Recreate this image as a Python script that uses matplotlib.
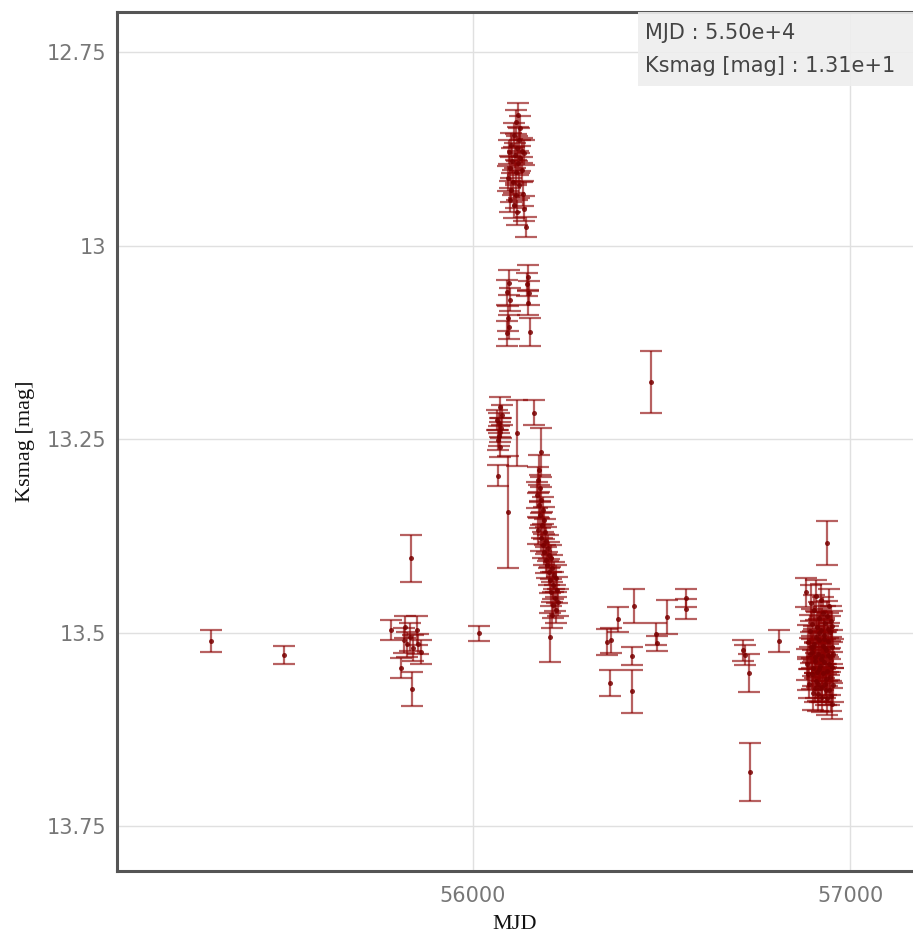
import matplotlib
matplotlib.use("Agg")
import matplotlib.pyplot as plt

# ---------------- data ----------------
# isolated early points and the 55800 group
mjd_early = [55305, 55499, 55782, 55820, 55851, 55825, 55841, 55862, 55809, 55838,
             55836, 55818, 55833, 55854, 56016]
mag_early = [13.511, 13.529, 13.497, 13.493, 13.497, 13.515, 13.520, 13.525, 13.546, 13.573,
             13.404, 13.510, 13.506, 13.515, 13.501]
err_early = [0.014, 0.012, 0.013, 0.014, 0.019, 0.016, 0.017, 0.016, 0.013, 0.022,
             0.030, 0.016, 0.018, 0.013, 0.010]

# outburst peak
mjd_peak = [56119, 56114, 56125, 56109, 56122, 56101, 56117, 56130, 56095, 56111,
            56135, 56125, 56103, 56119, 56098, 56114, 56130, 56093, 56106, 56122,
            56101, 56114, 56133, 56098, 56109, 56135, 56117, 56141]
mag_peak = [12.831, 12.840, 12.848, 12.857, 12.864, 12.870, 12.874, 12.877, 12.879, 12.883,
            12.880, 12.887, 12.890, 12.893, 12.900, 12.905, 12.902, 12.913, 12.918, 12.922,
            12.928, 12.935, 12.933, 12.941, 12.948, 12.952, 12.957, 12.976]
err_peak = [0.016] * 27 + [0.013]

# second plateau
mjd_plat = [56095, 56090, 56098, 56093, 56095, 56090, 56146, 56143, 56149, 56146, 56151]
mag_plat = [13.048, 13.060, 13.070, 13.094, 13.105, 13.113, 13.041, 13.050, 13.061, 13.074, 13.112]
err_plat = [0.016, 0.016, 0.015, 0.016, 0.016, 0.016, 0.016, 0.015, 0.016, 0.016, 0.018]

# early fading points
mjd_fade1 = [56072, 56077, 56069, 56072, 56066, 56072, 56066, 56064, 56074, 56069, 56117, 56093]
mag_fade1 = [13.209, 13.219, 13.229, 13.241, 13.251, 13.260, 13.297, 13.225, 13.236, 13.246,
             13.242, 13.344]
err_fade1 = [0.013, 0.013, 0.013, 0.013, 0.013, 0.013, 0.013, 0.013, 0.013, 0.013, 0.043, 0.072]

# decline
mjd_decl = [56162, 56180, 56175, 56172, 56178, 56170, 56180, 56175, 56186, 56178, 56188,
            56183, 56172, 56191, 56180, 56194, 56186, 56199, 56188, 56202, 56194,
            56207, 56196, 56210, 56202, 56215, 56204, 56220, 56212, 56223, 56207,
            56218, 56225, 56212, 56220, 56210, 56204]
mag_decl = [13.216, 13.267, 13.290, 13.303, 13.313, 13.322, 13.329, 13.335, 13.342, 13.348,
            13.355, 13.361, 13.368, 13.370, 13.378, 13.381, 13.387, 13.391, 13.396, 13.400,
            13.406, 13.404, 13.413, 13.417, 13.422, 13.426, 13.432, 13.430, 13.439, 13.445,
            13.448, 13.455, 13.461, 13.464, 13.471, 13.477, 13.506]
err_decl = [0.016, 0.032, 0.019] + [0.017] * 33 + [0.032]

# 2013-2014 points
mjd_mid = [56472, 56355, 56366, 56385, 56427, 56363, 56422, 56422, 56485, 56488, 56515,
           56565, 56565, 56716, 56721, 56732, 56812, 56735]
mag_mid = [13.176, 13.512, 13.510, 13.483, 13.466, 13.565, 13.530, 13.576, 13.502, 13.514,
           13.480, 13.455, 13.470, 13.523, 13.529, 13.552, 13.511, 13.680]
err_mid = [0.040, 0.017, 0.016, 0.016, 0.022, 0.017, 0.012, 0.028, 0.014, 0.010, 0.022,
           0.012, 0.013, 0.013, 0.013, 0.025, 0.014, 0.037]

# dense late cluster
mjd_late = [56939, 56886, 56889, 56891, 56893, 56895, 56896, 56898, 56900, 56901, 56903,
            56904, 56906, 56907, 56909, 56910, 56911, 56913, 56914, 56915, 56917, 56918,
            56919, 56920, 56922, 56923, 56924, 56925, 56927, 56928, 56929, 56930, 56932,
            56933, 56934, 56935, 56937, 56938, 56939, 56940, 56941, 56943, 56944, 56945,
            56946, 56947, 56948, 56949, 56950, 56951, 56952, 56953, 56954, 56955, 56888,
            56897, 56902, 56908, 56912, 56916, 56921, 56926, 56931, 56936, 56942, 56953,
            56883, 56899, 56905, 56919, 56933, 56942, 56925]
mag_late = [13.384, 13.541, 13.512, 13.566, 13.498, 13.527, 13.462, 13.553, 13.489, 13.578,
            13.518, 13.471, 13.536, 13.571, 13.505, 13.452, 13.562, 13.493, 13.528, 13.579,
            13.481, 13.547, 13.509, 13.571, 13.458, 13.534, 13.496, 13.583, 13.517, 13.552,
            13.474, 13.538, 13.503, 13.566, 13.487, 13.574, 13.522, 13.549, 13.478, 13.585,
            13.511, 13.541, 13.466, 13.574, 13.499, 13.531, 13.557, 13.485, 13.582, 13.519,
            13.545, 13.492, 13.568, 13.527, 13.553, 13.519, 13.546, 13.532, 13.551, 13.566,
            13.543, 13.570, 13.508, 13.560, 13.529, 13.592, 13.448, 13.525, 13.515, 13.500,
            13.520, 13.495, 13.530]
err_late = [0.028] + [0.020, 0.022, 0.019, 0.021, 0.020, 0.023, 0.020, 0.019, 0.022, 0.020] * 6 \
           + [0.020, 0.024, 0.020, 0.022, 0.020, 0.019, 0.021, 0.020, 0.018, 0.021, 0.020, 0.020]

mjd = mjd_early + mjd_peak + mjd_plat + mjd_fade1 + mjd_decl + mjd_mid + mjd_late
ksmag = mag_early + mag_peak + mag_plat + mag_fade1 + mag_decl + mag_mid + mag_late
ksmag_err = err_early + err_peak + err_plat + err_fade1 + err_decl + err_mid + err_late[:len(mag_late)]

x_ticks = [56000, 57000]
y_ticks = [12.75, 13.0, 13.25, 13.5, 13.75]
y_ticklabels = ["12.75", "13", "13.25", "13.5", "13.75"]

# ---------------- plot ----------------
W, H = 913, 936
fig = plt.figure(figsize=(W / 100, H / 100), dpi=100)
ax = fig.add_axes([117 / W, (H - 871) / H, (913 - 117) / W, (871 - 12) / H])

ax.errorbar(mjd, ksmag, yerr=ksmag_err, fmt='none', ecolor='#8b0000', alpha=0.62,
            elinewidth=1.6, capsize=8, capthick=1.6, zorder=3)
ax.plot(mjd, ksmag, 'o', color='#7a0000', markersize=3.6, alpha=0.85, zorder=4,
        markeredgewidth=0)

ax.set_xlim(55056, 57167)
ax.set_ylim(13.808, 12.698)
ax.set_xticks(x_ticks)
ax.set_xticklabels([str(t) for t in x_ticks])
ax.set_yticks(y_ticks)
ax.set_yticklabels(y_ticklabels)
ax.tick_params(axis='both', length=0, labelsize=15, labelcolor='#777777')
ax.tick_params(axis='x', pad=11)
ax.tick_params(axis='y', pad=8)
ax.grid(True, color='#e0e0e0', linewidth=1.0, zorder=0)
ax.set_axisbelow(True)

for side in ['left', 'bottom', 'top']:
    ax.spines[side].set_color('#555555')
    ax.spines[side].set_linewidth(2.2)
ax.spines['right'].set_visible(False)

ax.set_xlabel('MJD', family='Liberation Serif', fontsize=16, color='#111111', labelpad=6)
ax.set_ylabel('Ksmag [mag]', family='Liberation Serif', fontsize=16, color='#111111', labelpad=8)

# hover tooltip box
fig.patches.append(plt.Rectangle((638 / W, (H - 86) / H), (W - 638) / W, 74 / H,
                                 transform=fig.transFigure, facecolor='#eeeeee',
                                 edgecolor='none', alpha=0.9, zorder=10))
fig.text(645 / W, (H - 33) / H, 'MJD : 5.50e+4', fontsize=15, color='#444444',
         va='center', ha='left', family='DejaVu Sans', zorder=11)
fig.text(645 / W, (H - 66) / H, 'Ksmag [mag] : 1.31e+1', fontsize=15, color='#444444',
         va='center', ha='left', family='DejaVu Sans', zorder=11)

fig.savefig('out.png', dpi=100)
